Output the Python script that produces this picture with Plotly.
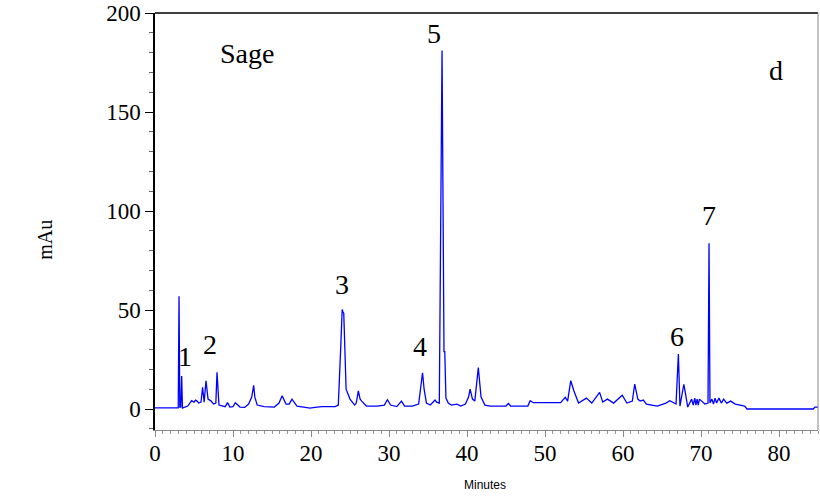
import plotly.graph_objects as go

# Retention time (minutes) and absorbance (mAu)
time_min = [
    0.0, 2.9, 2.98, 3.08, 3.18, 3.3, 3.42, 3.52, 3.7,
    4.2, 4.7, 5.0, 5.2, 5.4, 5.6, 5.9, 6.1, 6.3, 6.54, 6.8, 7.2, 7.5, 7.8, 7.95, 8.2, 8.6,
    9.0, 9.3, 9.6, 10.0, 10.3, 10.9, 11.5, 12.0, 12.4, 12.65, 12.8, 13.1, 14.0,
    15.3, 15.9, 16.3, 16.8, 17.2, 17.56, 18.2, 19.0, 19.9, 20.5, 21.4, 23.1,
    23.5, 23.8, 24.0, 24.1, 24.2, 24.5, 25.0, 25.6, 25.8, 26.07, 26.3, 26.5, 27.1,
    28.5, 29.4, 29.8, 30.2, 31.0, 31.6, 32.0, 33.0, 33.8, 34.1, 34.3, 34.5, 34.8,
    35.3, 35.9, 36.1, 36.3, 36.45, 36.8, 37.05, 37.15, 37.3, 37.6, 38.0, 38.7,
    39.2, 39.8, 40.2, 40.4, 40.7, 41.0, 41.45, 41.8, 42.3, 43.0, 45.0, 45.3, 45.6,
    47.8, 48.1, 48.5, 52.0, 52.6, 52.9, 53.3, 53.7, 54.3, 55.3, 56.0, 57.0, 57.4,
    58.0, 58.8, 59.9, 60.5, 61.2, 61.5, 61.9, 62.2, 62.6, 63.0, 64.4, 65.5, 66.0,
    66.8, 67.1, 67.3, 67.8, 68.0, 68.3, 68.8, 69.0, 69.2, 69.35, 69.5, 69.65, 69.8,
    70.5, 70.9, 71.03, 71.15, 71.4, 71.6, 71.8, 72.0, 72.3, 72.6, 72.9, 73.3, 73.8,
    74.4, 75.0, 75.6, 75.9, 84.4, 84.6, 85.0,
]
absorbance_mau = [
    0.6, 0.6, 0.6, 57.0, 1.0, 1.0, 16.7, 0.5, 0.8,
    1.5, 4.2, 3.5, 4.5, 4.0, 3.0, 3.5, 11.0, 3.5, 14.3, 5.0, 4.0, 2.5, 3.0, 18.5, 2.0, 1.5,
    1.2, 3.2, 1.0, 1.2, 3.2, 1.0, 0.8, 2.5, 6.0, 12.0, 6.0, 2.0, 1.2,
    1.0, 3.0, 6.7, 2.5, 2.5, 5.0, 1.5, 1.0, 0.5, 0.8, 1.2, 1.2,
    2.0, 30.0, 50.3, 49.0, 48.4, 10.0, 5.0, 2.0, 3.0, 9.2, 5.0, 4.0, 1.5,
    1.5, 2.0, 4.7, 2.0, 1.2, 4.0, 1.5, 1.5, 2.5, 12.0, 18.3, 10.0, 3.0,
    2.0, 4.5, 3.5, 3.0, 3.0, 181.0, 29.0, 29.0, 5.5, 3.0, 2.0, 2.5,
    1.5, 2.5, 6.0, 10.0, 5.0, 4.0, 20.9, 6.0, 2.0, 1.5, 1.5, 2.8, 1.5,
    1.5, 4.2, 3.2, 3.2, 5.9, 4.0, 14.3, 9.2, 3.0, 5.5, 3.0, 8.4, 3.5,
    5.0, 3.0, 7.0, 3.0, 4.0, 12.6, 5.0, 4.0, 4.5, 2.5, 1.5, 3.0, 4.2,
    2.5, 27.8, 1.5, 12.5, 8.0, 1.0, 5.0, 2.0, 5.5, 2.0, 5.0, 2.0, 5.0,
    2.5, 3.0, 83.7, 3.0, 5.0, 2.5, 5.5, 3.0, 5.5, 3.0, 5.0, 3.0, 4.0,
    2.5, 2.0, 1.5, 0.0, 0.0, 1.0, 1.0,
]

# Peak labels
peak_labels = ["Sage", "d", "1", "2", "3", "4", "5", "6", "7"]
label_x = [11.8, 79.6, 3.85, 7.05, 24.0, 34.0, 35.8, 66.9, 71.0]
label_y = [179.3, 171.2, 26.3, 32.8, 63.1, 31.8, 189.9, 36.4, 97.9]

x_ticks = [0, 10, 20, 30, 40, 50, 60, 70, 80]
y_ticks = [0, 50, 100, 150, 200]

serif = "Liberation Serif, Times New Roman, serif"

fig = go.Figure()
fig.add_trace(go.Scatter(
    x=time_min, y=absorbance_mau, mode="lines",
    line=dict(color="#0000ff", width=1.3), showlegend=False,
))

for txt, xx, yy in zip(peak_labels, label_x, label_y):
    fig.add_annotation(x=xx, y=yy, xref="x", yref="y", text=txt, showarrow=False,
                       font=dict(family=serif, size=28, color="black"))

fig.add_annotation(x=0.498, y=-0.132, xref="paper", yref="paper", text="Minutes",
                   xanchor="center", yanchor="middle", showarrow=False,
                   font=dict(family="Liberation Sans, Arial, sans-serif", size=12, color="black"))
fig.add_annotation(x=-0.166, y=0.456, xref="paper", yref="paper", text="mAu", textangle=-90,
                   xanchor="center", yanchor="middle", showarrow=False,
                   font=dict(family=serif, size=20, color="black"))

# frame lines
fig.add_shape(type="line", xref="paper", yref="paper", x0=0, x1=1, y0=1, y1=1,
              line=dict(color="black", width=1.5))
fig.add_shape(type="line", xref="paper", yref="paper", x0=1, x1=1, y0=0, y1=1,
              line=dict(color="#888888", width=1))

fig.update_xaxes(
    range=[0, 85], tickvals=x_ticks, ticks="outside", ticklen=6, tickcolor="#888888",
    showline=True, linecolor="#888888", linewidth=1, showgrid=False, zeroline=False,
    tickfont=dict(family=serif, size=23, color="black"), ticklabelstandoff=-4,
    ticklabeloverflow="allow", automargin=False,
    minor=dict(dtick=1, ticks="outside", ticklen=3, tickcolor="#999999", showgrid=False),
)
fig.update_yaxes(
    range=[-10.6, 200], tickvals=y_ticks, ticks="outside", ticklen=8, tickcolor="black",
    showline=True, linecolor="black", linewidth=1.5, showgrid=False, zeroline=False,
    tickfont=dict(family=serif, size=23, color="black"), ticklabeloverflow="allow",
    automargin=False,
    minor=dict(dtick=10, ticks="outside", ticklen=4, tickcolor="#666666", showgrid=False),
)

fig.update_layout(
    width=820, height=500, margin=dict(l=155, r=2, t=13, b=70),
    plot_bgcolor="white", paper_bgcolor="white",
)

fig.write_html("out.html", config={"displayModeBar": False},
               post_script="document.body.style.margin='0';")
